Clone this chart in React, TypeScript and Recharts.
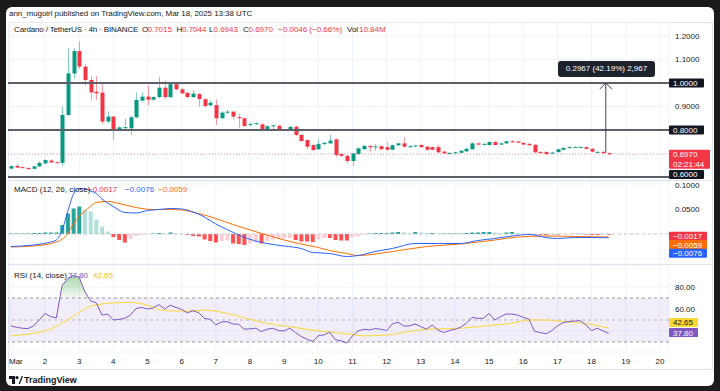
import React from 'react'
import { ComposedChart, Bar, Line, Area, XAxis, YAxis, CartesianGrid, ReferenceLine, ReferenceArea, Cell } from 'recharts'

const FONT = '"Liberation Sans", Arial, sans-serif'
const GREEN = '#089981'
const RED = '#f23645'
const INK = '#131722'
const GRID = '#f0f3fa'

// 4h candles, Mar 1 00:00 -> Mar 18 12:00
const opens = [
  0.636, 0.647, 0.642, 0.638, 0.635, 0.645, 0.658, 0.670, 0.663, 0.660,
  0.864, 1.040, 1.136, 1.070, 1.013, 0.963, 0.959, 0.836, 0.857, 0.800,
  0.810, 0.807, 0.854, 0.925, 0.942, 0.929, 0.940, 0.980, 0.940, 0.995,
  0.973, 0.958, 0.940, 0.953, 0.931, 0.905, 0.906, 0.850, 0.876, 0.878,
  0.855, 0.850, 0.823, 0.826, 0.824, 0.800, 0.817, 0.818, 0.800, 0.800,
  0.814, 0.779, 0.757, 0.736, 0.718, 0.740, 0.743, 0.760, 0.698, 0.690,
  0.668, 0.698, 0.718, 0.732, 0.727, 0.731, 0.727, 0.716, 0.735, 0.743,
  0.728, 0.731, 0.736, 0.729, 0.727, 0.727, 0.708, 0.699, 0.702, 0.703,
  0.709, 0.718, 0.743, 0.738, 0.736, 0.749, 0.738, 0.743, 0.752, 0.751,
  0.745, 0.741, 0.737, 0.706, 0.706, 0.700, 0.706, 0.716, 0.724, 0.726,
  0.726, 0.727, 0.720, 0.704, 0.707, 0.7015,
]
const highs = [
  0.650, 0.655, 0.645, 0.640, 0.648, 0.667, 0.676, 0.674, 0.666, 0.900,
  1.148, 1.148, 1.176, 1.080, 1.030, 1.030, 0.995, 0.880, 0.860, 0.815,
  0.848, 0.860, 0.960, 0.960, 0.990, 0.945, 1.027, 1.010, 1.000, 1.000,
  0.978, 0.962, 0.970, 0.958, 0.935, 0.925, 0.930, 0.880, 0.885, 0.882,
  0.870, 0.853, 0.830, 0.832, 0.828, 0.820, 0.822, 0.822, 0.803, 0.816,
  0.818, 0.782, 0.760, 0.740, 0.760, 0.750, 0.779, 0.764, 0.702, 0.694,
  0.704, 0.726, 0.736, 0.735, 0.740, 0.735, 0.748, 0.738, 0.746, 0.769,
  0.735, 0.737, 0.740, 0.732, 0.730, 0.738, 0.712, 0.706, 0.708, 0.714,
  0.724, 0.748, 0.746, 0.744, 0.752, 0.752, 0.746, 0.755, 0.756, 0.754,
  0.748, 0.744, 0.740, 0.710, 0.710, 0.707, 0.720, 0.726, 0.730, 0.730,
  0.730, 0.730, 0.723, 0.710, 0.710, 0.7044,
]
const lows = [
  0.632, 0.638, 0.636, 0.630, 0.633, 0.642, 0.655, 0.660, 0.658, 0.647,
  0.860, 1.020, 1.060, 0.990, 0.928, 0.928, 0.825, 0.830, 0.757, 0.795,
  0.805, 0.779, 0.850, 0.920, 0.905, 0.925, 0.935, 0.932, 0.935, 0.970,
  0.952, 0.935, 0.936, 0.900, 0.895, 0.903, 0.821, 0.846, 0.868, 0.845,
  0.811, 0.812, 0.815, 0.822, 0.795, 0.797, 0.800, 0.798, 0.795, 0.798,
  0.775, 0.750, 0.718, 0.710, 0.715, 0.735, 0.740, 0.685, 0.686, 0.658,
  0.647, 0.695, 0.716, 0.708, 0.712, 0.715, 0.712, 0.714, 0.732, 0.725,
  0.724, 0.728, 0.724, 0.712, 0.713, 0.702, 0.698, 0.695, 0.700, 0.701,
  0.707, 0.716, 0.736, 0.734, 0.734, 0.734, 0.736, 0.741, 0.746, 0.744,
  0.736, 0.732, 0.700, 0.699, 0.693, 0.697, 0.704, 0.714, 0.721, 0.724,
  0.723, 0.718, 0.705, 0.701, 0.698, 0.6943,
]
const closes = [
  0.646, 0.640, 0.638, 0.635, 0.645, 0.660, 0.672, 0.662, 0.661, 0.864,
  1.041, 1.136, 1.070, 1.013, 0.960, 0.956, 0.836, 0.857, 0.800, 0.811,
  0.812, 0.854, 0.928, 0.942, 0.929, 0.940, 0.980, 0.940, 0.995, 0.973,
  0.956, 0.940, 0.955, 0.932, 0.902, 0.916, 0.850, 0.874, 0.878, 0.857,
  0.850, 0.817, 0.826, 0.829, 0.800, 0.816, 0.820, 0.800, 0.797, 0.813,
  0.779, 0.753, 0.729, 0.715, 0.740, 0.745, 0.755, 0.694, 0.690, 0.668,
  0.700, 0.722, 0.732, 0.727, 0.730, 0.718, 0.716, 0.735, 0.743, 0.729,
  0.731, 0.734, 0.727, 0.716, 0.716, 0.705, 0.701, 0.702, 0.705, 0.712,
  0.720, 0.743, 0.738, 0.741, 0.749, 0.736, 0.743, 0.752, 0.748, 0.746,
  0.738, 0.735, 0.705, 0.702, 0.698, 0.704, 0.718, 0.724, 0.727, 0.728,
  0.728, 0.720, 0.708, 0.707, 0.7015, 0.6970,
]

const macdHist = [
  0.001, 0.001, 0.001, 0.001, 0.002, 0.002, 0.003, 0.003, 0.003, 0.018,
  0.041, 0.051, 0.055, 0.048, 0.045, 0.029, 0.015, 0.005, -0.006, -0.012,
  -0.017, -0.01, -0.004, -0.002, -0.0005, 0.001, 0.002, 0.001, 0.003, 0.001,
  0.0003, -0.002, -0.004, -0.005, -0.011, -0.014, -0.017, -0.014, -0.013, -0.019,
  -0.02, -0.022, -0.019, -0.017, -0.019, -0.014, -0.011, -0.01, -0.009, -0.008,
  -0.012, -0.015, -0.015, -0.016, -0.011, -0.008, -0.008, -0.012, -0.013, -0.013,
  -0.007, -0.005, -0.001, 0.001, 0.002, 0.002, 0.002, 0.003, 0.004, 0.003,
  0.002, 0.004, 0.003, 0.002, 0.002, 0.001, 0.001, 0.001, 0.001, 0.001,
  0.002, 0.003, 0.003, 0.004, 0.004, 0.003, 0.002, 0.003, 0.004, 0.002,
  0.001, 0.0005, -0.001, -0.002, -0.002, -0.001, -0.001, -0.0005, 0, 0.0005,
  0.0005, -0.001, -0.002, -0.002, -0.0015, -0.0017,
]
const macdIdx = [0, 4, 7, 8, 9, 10, 11, 12, 13, 14, 15, 16, 17, 18, 20, 22, 24, 26, 28, 30, 32, 34, 36, 38, 40, 43, 45, 48, 51, 53, 56, 59, 61, 64, 67, 71, 76, 79, 82, 85, 88, 91, 94, 96, 99, 102, 105]
const macdVals = [-0.025, -0.022, -0.016, -0.012, 0.008, 0.045, 0.08, 0.091, 0.09, 0.086, 0.081, 0.07, 0.062, 0.055, 0.043, 0.042, 0.047, 0.049, 0.051, 0.05, 0.044, 0.034, 0.02, 0.009, -0.002, -0.014, -0.019, -0.024, -0.029, -0.037, -0.039, -0.045, -0.043, -0.035, -0.029, -0.019, -0.019, -0.019, -0.013, -0.009, -0.004, -0.001, -0.007, -0.009, -0.007, -0.007, -0.0076]
const signalIdx = [0, 4, 8, 10, 11, 12, 14, 15, 17, 19, 22, 25, 28, 30, 33, 36, 39, 42, 45, 48, 51, 54, 56, 59, 61, 67, 73, 79, 85, 89, 94, 99, 105]
const signalVals = [-0.026, -0.024, -0.016, 0.001, 0.02, 0.035, 0.055, 0.063, 0.065, 0.061, 0.053, 0.049, 0.049, 0.048, 0.041, 0.031, 0.019, 0.008, -0.002, -0.012, -0.02, -0.027, -0.033, -0.039, -0.043, -0.035, -0.025, -0.02, -0.012, -0.006, -0.004, -0.005, -0.0059]

const rsiVals = [
  44.6, 43.4, 42.5, 42.2, 44.6, 50, 56, 53, 52, 81.5,
  87.5, 90.5, 89, 75.5, 67.4, 65.6, 54.5, 55.4, 50, 50.6,
  51.5, 54.5, 60.5, 61.4, 59.9, 61, 64, 60, 63.5, 61.4,
  59.6, 56.6, 58.4, 56.6, 51.5, 50.6, 45.5, 48.2, 48.5, 46.4,
  46.1, 41.6, 41.9, 42.5, 39.5, 41.6, 42.5, 40.4, 40.1, 42.5,
  38.6, 35, 32.6, 30.5, 35.6, 36.5, 38.9, 32, 31.1, 29,
  35.6, 40.1, 41.6, 41, 42.2, 41.6, 40.4, 46.4, 47.9, 44.6,
  44.6, 46.4, 44, 41.6, 45.5, 41, 38.6, 40.4, 41.6, 43.4,
  47, 52.4, 51.5, 51.5, 56, 50, 53, 55.4, 55.4, 54.5,
  52.4, 50.6, 39.5, 38.6, 37.4, 40.4, 44.6, 47.6, 48.5, 49.1,
  49.4, 45.5, 40.4, 42.5, 40.1, 37.8,
]
const rsiMaIdx = [0, 4, 7, 10, 12, 14, 18, 21, 24, 27, 31, 34, 38, 41, 45, 48, 52, 55, 59, 62, 66, 70, 73, 79, 85, 88, 91, 94, 97, 100, 103, 105]
const rsiMaVals = [35.6, 38, 42, 50, 57, 62.5, 65.5, 66, 63.5, 58.5, 58, 59, 56, 52, 47, 44.6, 41.6, 39.5, 37.4, 35.6, 36.3, 39.5, 41.6, 42.5, 45.5, 47, 50, 50, 48.5, 47.5, 45, 42.65]

const dayTicks = [0, 6, 12, 18, 24, 30, 36, 42, 48, 54, 60, 66, 72, 78, 84, 90, 96, 102, 108, 114]
const dayLabels = ['Mar', '2', '3', '4', '5', '6', '7', '8', '9', '10', '11', '12', '13', '14', '15', '16', '17', '18', '19', '20']
const priceTicks = [0.6, 0.7, 0.8, 0.9, 1.0, 1.1, 1.2]
const macdTicks = [-0.05, 0, 0.05, 0.1]
const rsiTicks = [40, 60, 80]

const X_DOMAIN = [-0.5, 115.6]
const P_DOMAIN = [0.5872, 1.2596]
const M_DOMAIN = [-0.06, 0.106]
const R_DOMAIN = [20.9, 100]
const CW = 704
const AXW = 43
const RSI_PLOT_H = 87

const Candle = (props: any) => {
  const { x, y, width, height, payload } = props
  if (!payload) return null
  const { open, close, high, low } = payload
  const top = Math.min(y, y + height)
  const h = Math.abs(height)
  const k = high > low ? h / (high - low) : 0
  const py = (v: number) => top + (high - v) * k
  const c = close >= open ? GREEN : RED
  const cx = Math.round(x + width / 2) + 0.5
  const bTop = py(Math.max(open, close))
  const bH = Math.max(1, py(Math.min(open, close)) - bTop)
  return (
    <g>
      <line x1={cx} x2={cx} y1={top} y2={top + h} stroke={c} strokeOpacity={0.5} />
      <rect x={cx - 2} y={bTop} width={4} height={bH} fill={c} />
    </g>
  )
}

const AxisBox = (props: any) => {
  const { viewBox, text, bg, color = '#fff', dy = 0, w = 35, sub } = props
  if (!viewBox) return null
  const x = viewBox.x + viewBox.width
  const y = viewBox.y + dy
  const h = sub ? 19 : 9
  return (
    <g>
      <rect x={x} y={y - 4.5} width={w} height={h} fill={bg} rx={1} />
      <text x={x + 4} y={y + 3} fontSize={8} fill={color} fontFamily={FONT}>{text}</text>
      {sub && <text x={x + 4} y={y + 12.5} fontSize={8} fill={color} fontFamily={FONT}>{sub}</text>}
    </g>
  )
}

const MeasureArrow = (props: any) => {
  const { x1, y1, x2, y2 } = props
  return (
    <g stroke="#434651" strokeWidth={1} fill="none">
      <line x1={x1} y1={y1} x2={x2} y2={y2} />
      <polyline points={`${x2 - 6},${y2 + 6} ${x2},${y2} ${x2 + 6},${y2 + 6}`} />
    </g>
  )
}

// day labels; the first one sits at the pane's left edge, so keep it inside
const DayTick = (props: any) => {
  const { x, y, payload } = props
  const label = dayLabels[dayTicks.indexOf(payload.value)] ?? ''
  const first = payload.value === dayTicks[0]
  return (
    <text x={first ? 1 : x} y={y} dy="0.71em" textAnchor={first ? 'start' : 'middle'} fontSize={8} fill={INK} fontFamily={FONT}>
      {label}
    </text>
  )
}

const txt = (left: number, top: number, s: string, color = INK, extra: any = {}) => (
  <span style={{ position: 'absolute', left, top, fontSize: 8, lineHeight: '10px', color, whiteSpace: 'nowrap', ...extra }}>{s}</span>
)

const tickFmt = (shown: number[], digits: number) => (v: number) =>
  shown.some((s) => Math.abs(s - v) < 1e-9) ? v.toFixed(digits) : ''

export default function App() {
  const candles = opens.map((o, i) => ({ i, open: o, high: highs[i], low: lows[i], close: closes[i] }))
  const histRows = macdHist.map((h, i) => ({ i, hist: h }))
  const macdLine = macdIdx.map((i, k) => ({ i, v: macdVals[k] }))
  const signalLine = signalIdx.map((i, k) => ({ i, v: signalVals[k] }))
  const rsiRows = rsiVals.map((r, i) => ({ i, rsi: r }))
  const rsiMa = rsiMaIdx.map((i, k) => ({ i, v: rsiMaVals[k] }))
  const histColor = (i: number) => {
    const h = macdHist[i]
    const prev = i > 0 ? macdHist[i - 1] : h
    if (h >= 0) return h >= prev ? '#26a69a' : '#b2dfdb'
    return h <= prev ? '#ff5252' : '#ffcdd2'
  }
  const y70 = (RSI_PLOT_H * (R_DOMAIN[1] - 70)) / (R_DOMAIN[1] - R_DOMAIN[0])
  const axisTick = { fontSize: 8, fill: INK, fontFamily: FONT }

  const xAxis = (show: boolean) => (
    <XAxis
      type="number"
      dataKey="i"
      domain={X_DOMAIN}
      allowDataOverflow
      ticks={dayTicks}
      interval={0}
      hide={!show}
      height={17}
      tickLine={false}
      axisLine={false}
      tickSize={0}
      tickMargin={6}
      tick={<DayTick />}
    />
  )

  return (
    <div style={{ position: 'fixed', left: 0, top: 0, width: 720, height: 391, background: '#1b1b1b', fontFamily: FONT, overflow: 'hidden' }}>
      <div style={{ position: 'absolute', left: 6, top: 7, width: 708, height: 379, background: '#fff', borderRadius: 6 }} />
      {txt(9, 8.5, 'ann_mugoirl published on TradingView.com, Mar 18, 2025 13:38 UTC', INK, { letterSpacing: '-0.06px' })}
      <div style={{ position: 'absolute', left: 8, top: 22, width: 703, height: 346, border: '1px solid #e0e3eb' }} />
      <div style={{ position: 'absolute', left: 8, top: 180, width: 704, height: 1, background: '#e0e3eb' }} />
      <div style={{ position: 'absolute', left: 8, top: 264, width: 704, height: 1, background: '#e0e3eb' }} />

      {/* price pane */}
      <div style={{ position: 'absolute', left: 8, top: 22, width: CW, height: 158, overflow: 'hidden' }}>
        <ComposedChart width={CW} height={158} data={candles} margin={{ top: 0, right: 0, bottom: 0, left: 0 }}>
          <CartesianGrid stroke={GRID} />
          {xAxis(false)}
          <YAxis orientation="right" width={AXW} domain={P_DOMAIN} allowDataOverflow ticks={priceTicks}
            tickLine={false} axisLine={false} tickSize={0} tickMargin={6} tick={axisTick}
            tickFormatter={tickFmt([0.9, 1.1, 1.2], 4)} />
          <ReferenceLine y={0.697} stroke={RED} strokeOpacity={0.45} strokeDasharray="1 2" ifOverflow="visible"
            label={<AxisBox text="0.6970" sub="02:21:44" bg={RED} w={41} />} />
          <ReferenceLine y={1.0} stroke="#5d606b" strokeWidth={2} label={<AxisBox text="1.0000" bg={INK} />} />
          <ReferenceLine y={0.8} stroke="#5d606b" strokeWidth={2} label={<AxisBox text="0.8000" bg={INK} />} />
          <ReferenceLine y={0.6} stroke="#5d606b" strokeWidth={2} label={<AxisBox text="0.6000" bg={INK} dy={-2.5} />} />
          <Bar dataKey={(d: any) => [d.low, d.high]} barSize={4} shape={<Candle />} isAnimationActive={false} />
          <ReferenceLine segment={[{ x: 104.5, y: 0.7033 }, { x: 104.5, y: 1.0 }]} shape={<MeasureArrow />} ifOverflow="visible" />
        </ComposedChart>
      </div>
      {txt(14, 25, 'Cardano / TetherUS · 4h · BINANCE', INK, { letterSpacing: '-0.15px' })}
      {txt(142, 25, 'O')}{txt(147.5, 25, '0.7015', RED)}
      {txt(176.5, 25, 'H')}{txt(182, 25, '0.7044', RED)}
      {txt(209, 25, 'L')}{txt(213.5, 25, '0.6943', RED)}
      {txt(243, 25, 'C')}{txt(248.5, 25, '0.6970', RED)}
      {txt(278, 25, '−0.0046 (−0.66%)', RED)}
      {txt(347, 25, 'Vol')}{txt(359, 25, '10.84M', RED)}
      <div style={{ position: 'absolute', left: 558, top: 61, width: 97, height: 16, background: '#1e222d', borderRadius: 3, color: '#fff', fontSize: 8, lineHeight: '16px', textAlign: 'center' }}>
        0.2967 (42.19%) 2,967
      </div>

      {/* MACD pane */}
      <div style={{ position: 'absolute', left: 8, top: 181, width: CW, height: 83, overflow: 'hidden' }}>
        <ComposedChart width={CW} height={83} data={histRows} margin={{ top: 0, right: 0, bottom: 0, left: 0 }}>
          <CartesianGrid stroke={GRID} />
          {xAxis(false)}
          <YAxis orientation="right" width={AXW} domain={M_DOMAIN} allowDataOverflow ticks={macdTicks}
            tickLine={false} axisLine={false} tickSize={0} tickMargin={6} tick={axisTick}
            tickFormatter={tickFmt([0.05, 0.1], 4)} />
          <ReferenceLine y={0} stroke="#c9cbd1" strokeDasharray="3 3" />
          <Bar dataKey="hist" barSize={4} isAnimationActive={false}>
            {histRows.map((r) => <Cell key={r.i} fill={histColor(r.i)} />)}
          </Bar>
          <Line data={signalLine} dataKey="v" type="monotone" stroke="#ff6d00" strokeWidth={1} dot={false} isAnimationActive={false} />
          <Line data={macdLine} dataKey="v" type="monotone" stroke="#2962ff" strokeWidth={1} dot={false} isAnimationActive={false} />
          <ReferenceLine y={-0.0017} stroke="none" label={<AxisBox text="−0.0017" bg={RED} w={38} dy={1.5} />} />
          <ReferenceLine y={-0.0059} stroke="none" label={<AxisBox text="−0.0059" bg="#ff6d00" w={38} dy={7.8} />} />
          <ReferenceLine y={-0.0076} stroke="none" label={<AxisBox text="−0.0076" bg="#2962ff" w={38} dy={15.4} />} />
        </ComposedChart>
      </div>
      {txt(14, 184.5, 'MACD (12, 26, close)')}
      {txt(88, 184.5, '−0.0017', RED)}
      {txt(125, 184.5, '−0.0076', '#2962ff')}
      {txt(158, 184.5, '−0.0059', '#ff6d00')}

      {/* RSI pane */}
      <div style={{ position: 'absolute', left: 8, top: 265, width: CW, height: 104, overflow: 'hidden' }}>
        <ComposedChart width={CW} height={104} data={rsiRows} margin={{ top: 0, right: 0, bottom: 0, left: 0 }}>
          <defs>
            <linearGradient id="obFill" gradientUnits="userSpaceOnUse" x1="0" y1="0" x2="0" y2={y70}>
              <stop offset="0" stopColor="#4caf50" stopOpacity={0.7} />
              <stop offset="0.99" stopColor="#4caf50" stopOpacity={0.06} />
              <stop offset="1" stopColor="#4caf50" stopOpacity={0} />
            </linearGradient>
          </defs>
          <CartesianGrid stroke={GRID} />
          {xAxis(true)}
          <YAxis orientation="right" width={AXW} domain={R_DOMAIN} allowDataOverflow ticks={rsiTicks}
            tickLine={false} axisLine={false} tickSize={0} tickMargin={6} tick={axisTick}
            tickFormatter={tickFmt([60, 80], 2)} />
          <ReferenceArea y1={30} y2={70} fill="#7e57c2" fillOpacity={0.1} stroke="none" />
          <ReferenceLine y={70} stroke="#9598a1" strokeDasharray="3 3" />
          <ReferenceLine y={50} stroke="#b2b5be" strokeDasharray="3 3" />
          <ReferenceLine y={30} stroke="#9598a1" strokeDasharray="3 3" />
          <Area dataKey="rsi" baseValue={70} stroke="none" fill="url(#obFill)" fillOpacity={1} isAnimationActive={false} />
          <Line data={rsiMa} dataKey="v" type="monotone" stroke="#fdd835" strokeWidth={1} dot={false} isAnimationActive={false} />
          <Line dataKey="rsi" stroke="#7e57c2" strokeWidth={1} dot={false} isAnimationActive={false} />
          <ReferenceLine y={42.65} stroke="none" label={<AxisBox text="42.65" bg="#fdd835" color={INK} w={29} dy={-5.6} />} />
          <ReferenceLine y={37.8} stroke="none" label={<AxisBox text="37.80" bg="#7e57c2" w={29} dy={-0.9} />} />
        </ComposedChart>
      </div>
      {txt(14, 270.5, 'RSI (14, close)')}
      {txt(68, 270.5, '37.80', '#7e57c2')}
      {txt(93, 270.5, '42.65', '#f2c200')}

      {/* footer logo */}
      <svg style={{ position: 'absolute', left: 9, top: 376 }} width={14} height={8} viewBox="0 0 14 8">
        <path d="M0 0h6v8h-3v-5h-3z" fill={INK} />
        <circle cx={8} cy={1.6} r={1.6} fill={INK} />
        <path d="M9.6 8l3-8h1.4l-3 8z" fill={INK} />
      </svg>
      {txt(24, 375, 'TradingView', INK, { fontSize: 9, fontWeight: 700, lineHeight: '11px' })}
    </div>
  )
}
